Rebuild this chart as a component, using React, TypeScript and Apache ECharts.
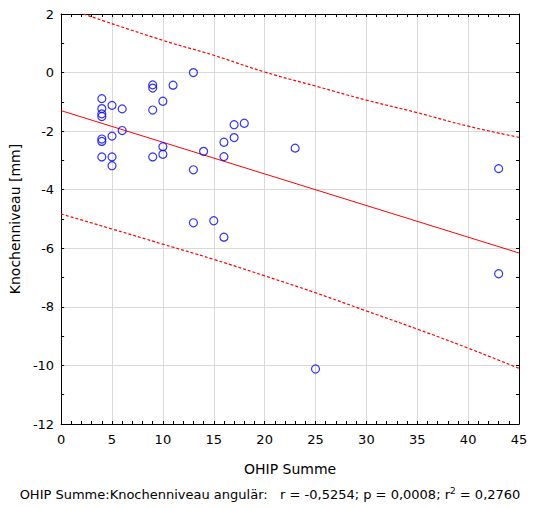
import React, { useEffect, useRef } from "react";
import * as echarts from "echarts";

// OHIP Summe (x) vs Knochenniveau [mm] (y)
const pointsX = [
  4, 4, 4, 4, 4, 4, 4,
  5, 5, 5, 5,
  6, 6,
  9, 9, 9, 9,
  10, 10, 10,
  11,
  13, 13, 13,
  14,
  15,
  16, 16, 16,
  17, 17,
  18,
  23,
  25,
  43, 43,
];
const pointsY = [
  -0.89, -1.23, -1.41, -1.5, -2.27, -2.35, -2.88,
  -1.12, -2.17, -2.88, -3.18,
  -1.24, -1.98,
  -0.42, -0.53, -1.28, -2.88,
  -0.98, -2.53, -2.79,
  -0.43,
  0.0, -3.32, -5.13,
  -2.69,
  -5.06,
  -2.38, -2.87, -5.62,
  -1.78, -2.22,
  -1.73,
  -2.58,
  -10.12,
  -3.28, -6.87,
];

// regression line
const fitX = [0, 45];
const fitY = [-1.3, -6.16];

// prediction band
const upperX = [2.2, 10, 15, 20, 25, 30, 35, 40, 45];
const upperY = [2.0, 1.1, 0.59, 0.02, -0.46, -0.94, -1.37, -1.83, -2.21];
const lowerX = [0, 5, 10, 15, 20, 25, 30, 35, 40, 45];
const lowerY = [-4.83, -5.34, -5.86, -6.38, -6.94, -7.52, -8.14, -8.76, -9.41, -10.1];

const xTicks = { min: 0, max: 45, interval: 5 };
const yTicks = { min: -12, max: 2, interval: 2 };

const xName = "OHIP Summe";
const yName = "Knochenniveau [mm]";
const footPre = "OHIP Summe:Knochenniveau angulär:   r = -0,5254; p = 0,0008; r";
const footPost = " = 0,2760";

const FONT = "Tahoma, 'DejaVu Sans', sans-serif";

function zip(xs: number[], ys: number[]) {
  return xs.map((x, i) => [x, ys[i]]);
}

export default function App() {
  const ref = useRef<HTMLDivElement>(null);
  useEffect(() => {
    document.body.style.margin = "0";
    const chart = echarts.init(ref.current!, null, { renderer: "svg" });
    const axisCommon = {
      axisLine: { show: true, onZero: false, lineStyle: { color: "#000", width: 1 } },
      axisTick: { show: true, inside: true, length: 3, lineStyle: { color: "#000" } },
      minorTick: { show: true, length: 3, lineStyle: { color: "#000" } },
    };
    const xAxisBase = {
      type: "value",
      min: xTicks.min,
      max: xTicks.max,
      interval: xTicks.interval,
      ...axisCommon,
      minorTick: { ...axisCommon.minorTick, splitNumber: 5 },
    };
    const yAxisBase = {
      type: "value",
      min: yTicks.min,
      max: yTicks.max,
      interval: yTicks.interval,
      ...axisCommon,
      minorTick: { ...axisCommon.minorTick, splitNumber: 2 },
    };
    chart.setOption({
      animation: false,
      backgroundColor: "#fff",
      grid: { left: 61, right: 21, top: 14, bottom: 84, containLabel: false },
      xAxis: [
        {
          ...xAxisBase,
          position: "bottom",
          name: xName,
          nameLocation: "middle",
          nameGap: 38,
          nameTextStyle: { fontFamily: FONT, fontSize: 14, color: "#000" },
          axisLabel: { fontFamily: FONT, fontSize: 13, color: "#000", margin: 9 },
          splitLine: { show: true, lineStyle: { color: "#d9d9d9", width: 1 } },
        },
        {
          ...xAxisBase,
          position: "top",
          axisLabel: { show: false },
          splitLine: { show: false },
        },
      ],
      yAxis: [
        {
          ...yAxisBase,
          position: "left",
          name: yName,
          nameLocation: "middle",
          nameGap: 35,
          nameRotate: 90,
          nameTextStyle: { fontFamily: FONT, fontSize: 14, color: "#000" },
          axisLabel: { fontFamily: FONT, fontSize: 13, color: "#000", margin: 7 },
          splitLine: { show: true, lineStyle: { color: "#d9d9d9", width: 1 } },
        },
        {
          ...yAxisBase,
          position: "right",
          axisLabel: { show: false },
          splitLine: { show: false },
        },
      ],
      series: [
        {
          type: "line",
          data: zip(upperX, upperY),
          showSymbol: false,
          symbol: "none",
          smooth: true,
          lineStyle: { color: "#ff0000", width: 1.2, type: [3, 2] },
          z: 2,
        },
        {
          type: "line",
          data: zip(lowerX, lowerY),
          showSymbol: false,
          symbol: "none",
          smooth: true,
          lineStyle: { color: "#ff0000", width: 1.2, type: [3, 2] },
          z: 2,
        },
        {
          type: "line",
          data: zip(fitX, fitY),
          showSymbol: false,
          symbol: "none",
          lineStyle: { color: "#ff0000", width: 1 },
          z: 2,
        },
        {
          type: "scatter",
          data: zip(pointsX, pointsY),
          symbol: "circle",
          symbolSize: 8,
          itemStyle: { color: "rgba(255,255,255,0)", borderColor: "#0000ff", borderWidth: 1.2 },
          z: 3,
        },
      ],
      graphic: [
        {
          type: "text",
          left: "center",
          top: 486,
          style: {
            text: `${footPre}{sup|2}${footPost}`,
            fontFamily: FONT,
            fontSize: 13,
            fill: "#000",
            rich: {
              sup: { fontFamily: FONT, fontSize: 9, padding: [0, 0, 7, 0], fill: "#000" },
            },
          },
        },
      ],
    });
    return () => chart.dispose();
  }, []);
  return (
    <div
      ref={ref}
      style={{ position: "absolute", left: 0, top: 0, width: 540, height: 508 }}
    />
  );
}
